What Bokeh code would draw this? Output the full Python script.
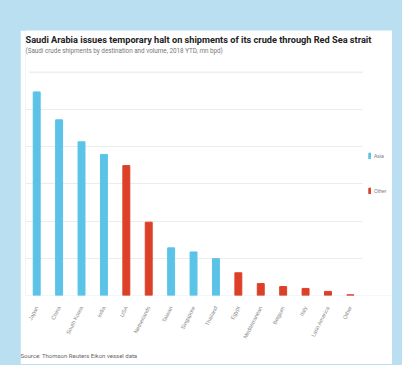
from bokeh.plotting import figure
from bokeh.models import (ColumnDataSource, Range1d, FixedTicker, Title, BoxAnnotation,
                          Span, Label, Legend, LegendItem)
from bokeh.layouts import column
from bokeh.embed import file_html
from bokeh.resources import INLINE

# ---- data (mn barrels per day, estimated) ----
countries = ["Japan", "China", "South Korea", "India", "USA", "Netherlands", "Taiwan",
             "Singapore", "Thailand", "Egypt", "Mediterranean", "Belgium", "Italy",
             "Latin America", "Other"]
volumes = [1.094, 0.944, 0.826, 0.758, 0.698, 0.394, 0.256, 0.234, 0.198, 0.122,
           0.064, 0.048, 0.038, 0.022, 0.004]
regions = ["Asia", "Asia", "Asia", "Asia", "Other", "Other", "Asia", "Asia", "Asia",
           "Other", "Other", "Other", "Other", "Other", "Other"]
grid_ticks = [0.2, 0.4, 0.6, 0.8, 1.0]

BLUE = "#5cc3e8"
RED = "#dc4128"
colors = [BLUE if r == "Asia" else RED for r in regions]
xpos = list(range(len(countries)))

src = ColumnDataSource(dict(x=xpos, top=volumes, color=colors, region=regions))

# frame spans the whole card height down to the baseline; 0.2 units = 37.5 px
p = figure(x_range=Range1d(-0.5, 15.88), y_range=Range1d(0, 1.424),
           width=372, height=334, output_backend="svg", toolbar_location=None,
           min_border_left=5, min_border_right=0, min_border_top=0, min_border_bottom=67)
p.margin = (30, 10, 1, 20)
p.background_fill_color = "white"
p.border_fill_color = "white"
p.outline_line_color = None

p.vbar(x="x", top="top", width=0.31, color="color", source=src)

p.yaxis.visible = False
p.ygrid.ticker = FixedTicker(ticks=grid_ticks)
p.ygrid.grid_line_color = "#ececec"
p.xgrid.grid_line_color = None

# separator under the subtitle
p.add_layout(Span(location=1.2, dimension="width", line_color="#e6e6e6",
                  line_width=1, level="underlay"))
# white masks so grid lines / separator stop short of the card edges
p.add_layout(BoxAnnotation(left=14.55, right=15.88, bottom=0, top=1.23, level="guide",
                           fill_color="white", fill_alpha=1, line_color=None))
p.add_layout(BoxAnnotation(left=-0.5, right=-0.33, bottom=1.17, top=1.23, level="guide",
                           fill_color="white", fill_alpha=1, line_color=None))

xa = p.xaxis[0]
xa.ticker = FixedTicker(ticks=xpos)
xa.major_label_overrides = {i: c for i, c in enumerate(countries)}
xa.axis_line_color = None
xa.major_tick_line_color = None
xa.minor_tick_line_color = None
xa.major_label_orientation = 1.1
xa.major_label_text_font_size = "5.5px"
xa.major_label_text_color = "#8a8a8a"
xa.major_label_standoff = 5

p.title.visible = False
p.add_layout(Label(x=-0.5, y=1.376, x_offset=0,
                   text="Saudi Arabia issues temporary halt on shipments of its crude through Red Sea strait",
                   text_font="Roboto", text_font_style="bold", text_font_size="9.2px",
                   text_color="#222222", text_baseline="middle", text_align="left"))
p.add_layout(Label(x=-0.5, y=1.312, x_offset=0,
                   text="(Saudi crude shipments by destination and volume, 2018 YTD, mn bpd)",
                   text_font="Roboto", text_font_size="6.3px",
                   text_color="#777777", text_baseline="middle", text_align="left"))
p.add_layout(Title(text="Source: Thomson Reuters Eikon vessel data",
                   text_font="Roboto", text_font_size="6px", text_font_style="normal",
                   text_color="#666666", align="left", standoff=12, offset=-5), "below")

# legend
blue_r = p.rect(x=[0], y=[-1], width=0.1, height=0.1, color=BLUE)
red_r = p.rect(x=[0], y=[-1], width=0.1, height=0.1, color=RED)
legend = Legend(items=[LegendItem(label="Asia", renderers=[blue_r]),
                       LegendItem(label="Other", renderers=[red_r])],
                location=(343, 101), orientation="vertical",
                glyph_width=3, glyph_height=7, label_height=7, spacing=28,
                padding=0, margin=0, label_standoff=3,
                label_text_font_size="5px", label_text_color="#777777",
                background_fill_alpha=0, border_line_color=None)
p.add_layout(legend)

layout = column(p, width=402, height=365,
                styles={"background-color": "#b9dff0"})

open("out.html", "w").write(file_html(layout, INLINE))
